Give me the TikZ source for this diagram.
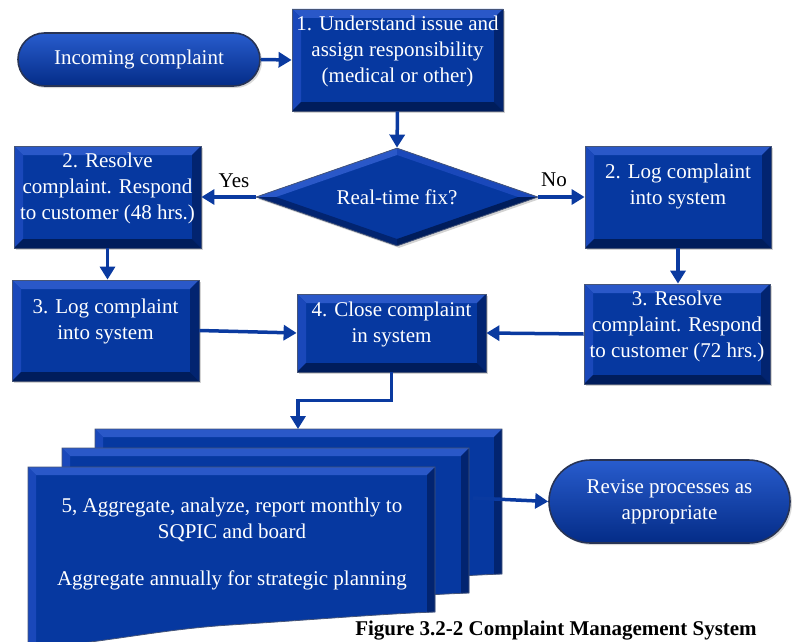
\documentclass[tikz,border=0pt]{standalone}
\usepackage{fontspec}
\setmainfont{Liberation Serif}
\usetikzlibrary{arrows.meta,shapes.geometric,shapes.misc,calc,shadows}
\definecolor{boxblue}{RGB}{6,56,160}
\definecolor{bevtop}{RGB}{42,88,200}
\definecolor{bevleft}{RGB}{26,72,186}
\definecolor{bevright}{RGB}{2,36,112}
\definecolor{bevbot}{RGB}{0,29,92}
\definecolor{edgec}{RGB}{70,85,120}
\definecolor{arrowblue}{RGB}{10,58,160}
\definecolor{pilltop}{RGB}{40,92,205}
\definecolor{pillbot}{RGB}{4,44,135}
\def\bvpb{path picture bounding box}
\def\bw{9pt}
\begin{document}
\begin{tikzpicture}[x=1pt,y=-1pt,
  txt/.style={text=white, font=\fontsize{21pt}{26pt}\selectfont, align=center, inner sep=0pt},
  lbl/.style={text=black, font=\fontsize{21pt}{26pt}\selectfont, inner sep=0pt},
  bbox/.style={draw=edgec, line width=0.8pt, fill=boxblue, inner sep=0pt,
    drop shadow={opacity=0.35, shadow xshift=2pt, shadow yshift=-2pt},
    path picture={
      \fill[bevtop] (\bvpb.north west) -- (\bvpb.north east) -- ([shift={(-\bw,-\bw)}]\bvpb.north east) -- ([shift={(\bw,-\bw)}]\bvpb.north west) -- cycle;
      \fill[bevleft] (\bvpb.north west) -- ([shift={(\bw,-\bw)}]\bvpb.north west) -- ([shift={(\bw,\bw)}]\bvpb.south west) -- (\bvpb.south west) -- cycle;
      \fill[bevright] (\bvpb.north east) -- (\bvpb.south east) -- ([shift={(-\bw,\bw)}]\bvpb.south east) -- ([shift={(-\bw,-\bw)}]\bvpb.north east) -- cycle;
      \fill[bevbot] (\bvpb.south west) -- ([shift={(\bw,\bw)}]\bvpb.south west) -- ([shift={(-\bw,\bw)}]\bvpb.south east) -- (\bvpb.south east) -- cycle;
    }},
  pill/.style={rounded rectangle, draw={rgb,255:red,40;green,52;blue,85}, line width=1.6pt,
    top color=pilltop, middle color=boxblue, bottom color=pillbot, inner sep=0pt,
    drop shadow={opacity=0.3, shadow xshift=2pt, shadow yshift=-2pt},
    text=white, font=\fontsize{21pt}{26pt}\selectfont, align=center},
  dia/.style={diamond, aspect=2.8, minimum width=282pt, minimum height=98pt, inner sep=0pt,
    fill=boxblue, draw=edgec, line width=0.8pt, text=white,
    font=\fontsize{21pt}{26pt}\selectfont,
    drop shadow={opacity=0.35, shadow xshift=2pt, shadow yshift=-2pt},
    path picture={
      \fill[bevtop] (\bvpb.west) -- (\bvpb.north) -- ($(\bvpb.center)!0.86!(\bvpb.north)$) -- ($(\bvpb.center)!0.86!(\bvpb.west)$) -- cycle;
      \fill[bevleft] (\bvpb.north) -- (\bvpb.east) -- ($(\bvpb.center)!0.86!(\bvpb.east)$) -- ($(\bvpb.center)!0.86!(\bvpb.north)$) -- cycle;
      \fill[bevbot] (\bvpb.east) -- (\bvpb.south) -- ($(\bvpb.center)!0.86!(\bvpb.south)$) -- ($(\bvpb.center)!0.86!(\bvpb.east)$) -- cycle;
      \fill[bevright] (\bvpb.south) -- (\bvpb.west) -- ($(\bvpb.center)!0.86!(\bvpb.west)$) -- ($(\bvpb.center)!0.86!(\bvpb.south)$) -- cycle;
    }},
  docshape/.style={fill=boxblue, draw=edgec, line width=0.8pt,
    path picture={
      \fill[bevtop] (\bvpb.north west) -- (\bvpb.north east) -- ([shift={(-8pt,-8pt)}]\bvpb.north east) -- ([shift={(8pt,-8pt)}]\bvpb.north west) -- cycle;
      \fill[bevleft] (\bvpb.north west) -- ([shift={(8pt,-8pt)}]\bvpb.north west) -- ([shift={(8pt,0pt)}]\bvpb.south west) -- (\bvpb.south west) -- cycle;
      \fill[bevright] (\bvpb.north east) -- (\bvpb.south east) -- ([shift={(-8pt,0pt)}]\bvpb.south east) -- ([shift={(-8pt,-8pt)}]\bvpb.north east) -- cycle;
    }},
  arr/.style={draw=arrowblue, line width=3.5pt, -{Triangle[length=13pt,width=15pt]}}
]
\useasboundingbox (0,0) rectangle (792,642);

% stacked documents
\foreach \dx/\dy in {67/-38, 34/-19, 0/0}{
  \begin{scope}[shift={(\dx,\dy)}]
    \path[docshape] (28,467) -- (435,467) -- (435,612)
      .. controls (380,614) and (310,620) .. (230,625)
      .. controls (150,630) and (80,648) .. (28,646) -- cycle;
  \end{scope}
}
\node[txt] (doc) at (232,544) {5, Aggregate, analyze, report monthly to\\SQPIC and board\\[21pt]Aggregate annually for strategic planning};
\coordinate (docT) at (298,429);
\coordinate (docR) at (473,498);

% nodes
\node[pill, minimum width=242pt, minimum height=53pt] (inc) at (139,59.5) {Incoming complaint};
\node[bbox, minimum width=211pt, minimum height=102pt] (b1) at (397.5,60) {};
\node[txt] (b1t) at ([yshift=8.5pt]b1.center) {1. Understand issue and\\assign responsibility\\(medical or other)};

\node[dia] (dia) at (397,197) {Real-time fix?};

\node[bbox, minimum width=187pt, minimum height=102pt] (b2l) at (107.5,197) {};
\node[txt] (b2lt) at ([yshift=8.5pt]b2l.center) {2. Resolve\\complaint. Respond\\to customer (48 hrs.)};

\node[bbox, minimum width=186pt, minimum height=102pt] (b2r) at (678,197) {};
\node[txt] (b2rt) at ([yshift=11pt]b2r.center) {2. Log complaint\\into system};

\node[bbox, minimum width=187pt, minimum height=101pt] (b3l) at (105.5,330.5) {};
\node[txt] (b3lt) at ([yshift=9.5pt]b3l.center) {3. Log complaint\\into system};

\node[bbox, minimum width=189pt, minimum height=78pt] (b4) at (391.5,333) {};
\node[txt] (b4t) at ([yshift=9pt]b4.center) {4. Close complaint\\in system};

\node[bbox, minimum width=186pt, minimum height=100pt] (b3r) at (677,334) {};
\node[txt] (b3rt) at ([yshift=8pt]b3r.center) {3. Resolve\\complaint. Respond\\to customer (72 hrs.)};

\node[pill, minimum width=241pt, minimum height=83pt] (rev) at (669.5,501.5) {Revise processes as\\appropriate};

\node[lbl] (yes) at (234,181) {Yes};
\node[lbl] (no) at (554,180) {No};

% connectors
\draw[arr] (inc.east) -- (b1.west);
\draw[arr] (b1.south) -- (dia.north);
\draw[arr] (dia.west) -- (b2l.east);
\draw[arr] (dia.east) -- (b2r.west);
\draw[arr] (b2l.south) -- (b2l.south |- b3l.north);
\draw[arr] (b2r.south) -- (b2r.south |- b3r.north);
\draw[arr] (b3l.east) -- (b4.west);
\draw[arr] (b3r.west) -- (b4.east);
\draw[arr] (b4.south) -- ++(0,28) -| (docT);
\draw[arr] (docR) -- (rev.west);

\node[text=black, font=\bfseries\fontsize{21pt}{26pt}\selectfont, anchor=base, inner sep=0pt] (cap) at (556,635.5) {Figure 3.2-2 Complaint Management System};
\end{tikzpicture}
\end{document}
